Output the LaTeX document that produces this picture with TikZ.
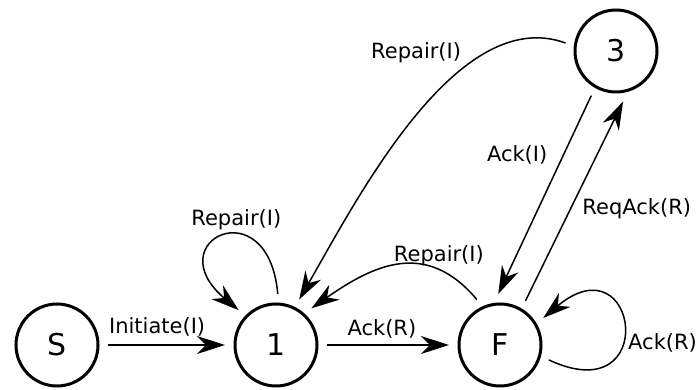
\documentclass[tikz,border=0pt]{standalone}
\usepackage{fontspec}
\setmainfont{DejaVu Sans}
\usetikzlibrary{arrows.meta, positioning}

\begin{document}
\begin{tikzpicture}[
    x=1pt, y=1pt,
    state/.style={circle, draw=black, line width=3pt, minimum size=82pt, outer sep=10pt, font=\fontsize{30}{34}\selectfont},
    trans/.style={-{Stealth[length=28pt, width=18pt, inset=9pt]}, line width=1.5pt},
    lbl/.style={font=\fontsize{21}{25}\selectfont}
]
\useasboundingbox (0,0) rectangle (696,390);

% States
\node[state] (s) at (57, 45) {S};
\node[state] (one) at (276, 45) {1};
\node[state] (fin) at (500, 45) {F};
\node[state] (three) at (616, 339) {3};

% Transitions
\draw[trans] (s.east) -- (one.west) node[lbl, pos=0.42, above=5pt] {Initiate(I)};
\draw[trans] (one.east) -- (fin.west) node[lbl, pos=0.45, above=3pt] {Ack(R)};
\draw[trans] (one.88) to[out=95, in=140, looseness=6.5] node[lbl, pos=0.4, above] {Repair(I)} (one.137);
\draw[trans] (fin.117) to[out=130, in=35, looseness=1.2] node[lbl, pos=0.25, above] {Repair(I)} (one.46);
\draw[trans] (three.171) to[out=160, in=60, looseness=0.8] node[lbl, pos=0.32, above left] {Repair(I)} (one.63);
\draw[trans] (three.241) -- (fin.92) node[lbl, pos=0.3, left=12pt] {Ack(I)};
\draw[trans] (fin.60) -- (three.278) node[lbl, pos=0.46, right=8pt] {ReqAck(R)};
\draw[trans] (fin.-17) to[out=-25, in=40, looseness=7.5] node[lbl, pos=0.45, right, yshift=-6pt] {Ack(R)} (fin.32);

\end{tikzpicture}
\end{document}
